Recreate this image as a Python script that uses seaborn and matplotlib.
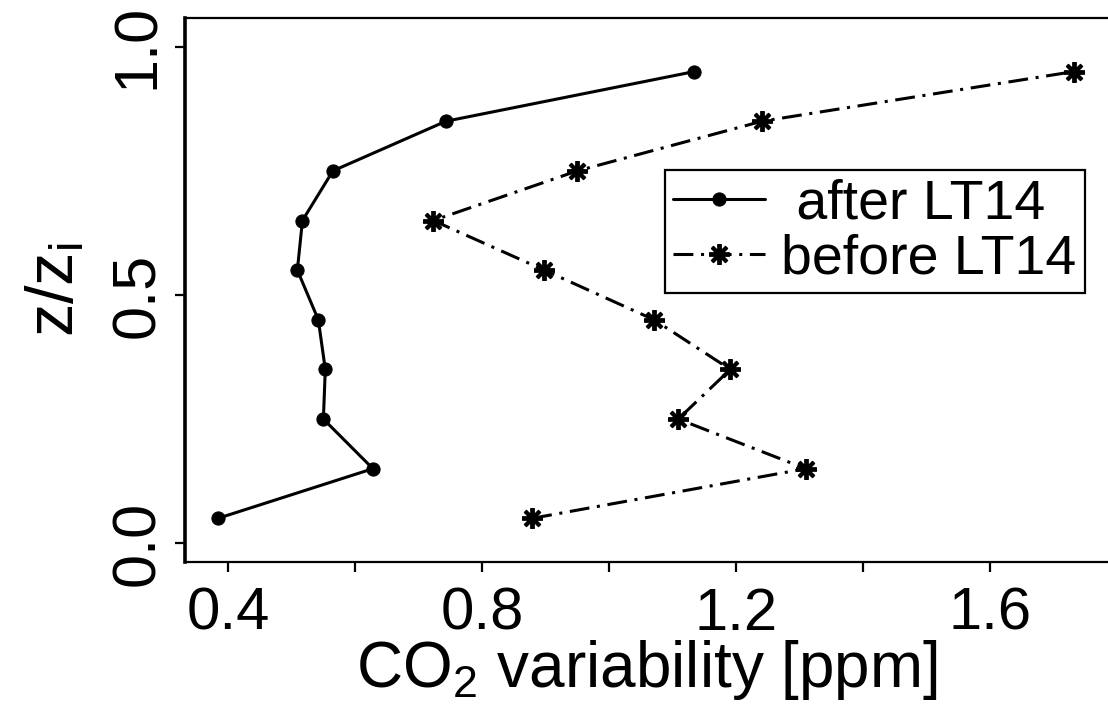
import matplotlib
matplotlib.use("Agg")
import matplotlib.pyplot as plt
import seaborn as sns

# Normalised height z/zi of each level
height = [0.05, 0.15, 0.25, 0.35, 0.45, 0.55, 0.65, 0.75, 0.85, 0.95]
# CO2 variability [ppm] at each level
after_lt14 = [0.384, 0.628, 0.550, 0.553, 0.542, 0.509, 0.517, 0.565, 0.743, 1.134]
before_lt14 = [0.879, 1.310, 1.109, 1.191, 1.071, 0.898, 0.723, 0.950, 1.241, 1.732]
series_labels = [" after LT14", "before LT14"]

x_ticks = [0.4, 0.6, 0.8, 1.0, 1.2, 1.4, 1.6]
x_tick_labels = ["0.4", "", "0.8", "", "1.2", "", "1.6"]
y_ticks = [0.0, 0.5, 1.0]
y_tick_labels = ["0.0", "0.5", "1.0"]

sns.set_theme(style="white")
plt.rcParams["font.family"] = ["Liberation Sans", "DejaVu Sans"]
plt.rcParams["mathtext.default"] = "regular"
for key in ["text.color", "axes.labelcolor", "xtick.color", "ytick.color"]:
    plt.rcParams[key] = "black"

fig = plt.figure(figsize=(11.08, 7.08), dpi=100)
ax = fig.add_axes([185 / 1108, 146 / 708, 923 / 1108, 544 / 708])

sns.lineplot(x=after_lt14, y=height, sort=False, estimator=None, ax=ax,
             color="black", linewidth=2.2, linestyle="-",
             marker="o", markersize=9.5, markeredgecolor="black",
             markerfacecolor="black", label=series_labels[0])
sns.lineplot(x=before_lt14, y=height, sort=False, estimator=None, ax=ax,
             color="black", linewidth=2.2, linestyle=(0, (6.5, 2.5, 1, 2.5)),
             marker=(8, 2, 0), markersize=15, markeredgewidth=2.8,
             markeredgecolor="black", label=series_labels[1])

ax.set_xlim(0.332, 1.786)
ax.set_ylim(-0.038, 1.058)

ax.set_xticks(x_ticks)
ax.set_xticklabels(x_tick_labels, fontsize=43)
ax.set_yticks(y_ticks)
ax.set_yticklabels(y_tick_labels, fontsize=44, rotation=90, va="center")
ax.tick_params(axis="both", direction="out", length=7, width=1.6,
               color="black", labelcolor="black", left=True, bottom=True)
ax.tick_params(axis="x", pad=11)
ax.tick_params(axis="y", pad=6)

ax.set_xlabel("CO$_2$ variability [ppm]", fontsize=46, labelpad=-3)
ax.set_ylabel("z/z$_i$", fontsize=48, labelpad=16)

for side in ["left", "bottom", "top"]:
    ax.spines[side].set_visible(True)
    ax.spines[side].set_color("black")
ax.spines["left"].set_linewidth(2.6)
ax.spines["bottom"].set_linewidth(1.6)
ax.spines["top"].set_linewidth(1.6)
ax.spines["right"].set_visible(False)

handles, labels = ax.get_legend_handles_labels()
ax.get_legend().remove()
leg = ax.legend(handles, labels, loc="upper right",
                bbox_to_anchor=(1085 / 1108, 538 / 708),
                bbox_transform=fig.transFigure,
                fontsize=40, frameon=True, fancybox=False, framealpha=1,
                edgecolor="black", handlelength=1.65, handletextpad=0.3,
                borderpad=0.15, labelspacing=0.05, borderaxespad=0)
leg.get_frame().set_linewidth(1.6)

fig.savefig("out.png", dpi=100)
